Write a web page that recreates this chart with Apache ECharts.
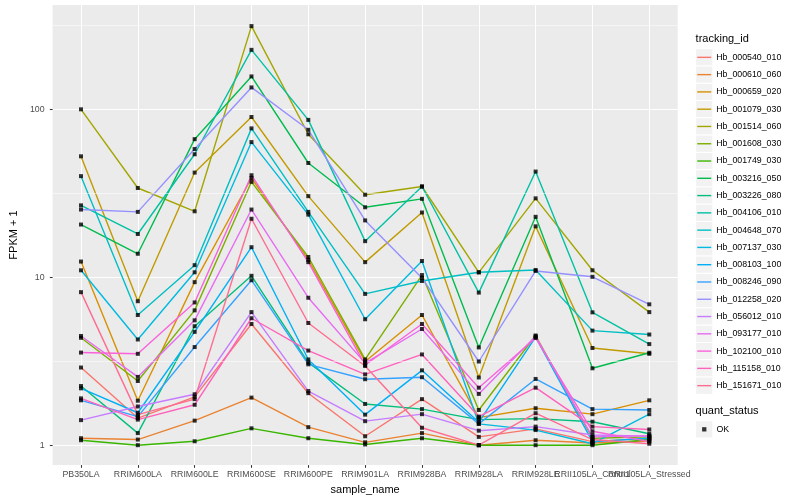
<!DOCTYPE html>
<html>
<head>
<meta charset="utf-8">
<script src="https://cdn.jsdelivr.net/npm/echarts@6/dist/echarts.min.js"></script>
<style>html,body{margin:0;padding:0;background:#fff}#c{width:800px;height:500px}</style>
</head>
<body>
<div id="c"></div>
<script>
// ---------- data ----------
const sampleNames = ['PB350LA','RRIM600LA','RRIM600LE','RRIM600SE','RRIM600PE','RRIM901LA','RRIM928BA','RRIM928LA','RRIM928LE','RRII105LA_Control','RRII105LA_Stressed'];
const trackingIds = ['Hb_000540_010','Hb_000610_060','Hb_000659_020','Hb_001079_030','Hb_001514_060','Hb_001608_030','Hb_001749_030','Hb_003216_050','Hb_003226_080','Hb_004106_010','Hb_004648_070','Hb_007137_030','Hb_008103_100','Hb_008246_090','Hb_012258_020','Hb_056012_010','Hb_093177_010','Hb_102100_010','Hb_115158_010','Hb_151671_010'];

const Hb_000540_010 = [2.9, 1.45, 1.94, 5.27, 2.04, 1.13, 1.88, 1.12, 1.25, 1.05, 1.1];
const Hb_000610_060 = [1.1, 1.08, 1.4, 1.92, 1.28, 1.04, 1.18, 1.0, 1.07, 1.03, 1.06];
const Hb_000659_020 = [12.4, 1.84, 9.35, 39, 12.7, 3.15, 5.96, 1.46, 1.66, 1.53, 1.85];
const Hb_001079_030 = [52.5, 7.2, 42, 90, 30.4, 12.3, 24.3, 2.53, 20.1, 3.79, 3.5];
const Hb_001514_060 = [100, 34, 24.7, 313, 71, 31, 34.7, 10.7, 29.5, 11.0, 6.2];
const Hb_001608_030 = [4.36, 2.41, 6.35, 37, 13.2, 3.24, 10.3, 1.62, 4.5, 1.1, 1.12];
const Hb_001749_030 = [1.07, 1.0, 1.055, 1.26, 1.1, 1.01, 1.1, 1.0, 1.0, 1.0, 1.08];
const Hb_003216_050 = [20.6, 13.8, 66.4, 157, 47.9, 26.1, 29.3, 3.82, 22.9, 2.87, 3.55];
const Hb_003226_080 = [2.25, 1.18, 5.11, 10.2, 3.1, 1.76, 1.64, 1.42, 1.44, 1.38, 1.17];
const Hb_004106_010 = [26.8, 18.1, 54, 226, 86.5, 16.4, 34.7, 8.1, 42.6, 6.18, 4.0];
const Hb_004648_070 = [40, 5.96, 11.8, 77, 24.5, 7.96, 9.5, 10.7, 11.05, 4.81, 4.56];
const Hb_007137_030 = [11.0, 4.26, 10.7, 63.8, 23.6, 5.62, 12.5, 1.34, 1.23, 1.02, 1.53];
const Hb_008103_100 = [2.18, 1.56, 4.73, 15.1, 3.24, 1.52, 2.79, 1.37, 4.4, 1.05, 1.1];
const Hb_008246_090 = [1.85, 1.48, 3.84, 9.6, 3.03, 2.47, 2.54, 1.34, 2.48, 1.64, 1.62];
const Hb_012258_020 = [25.3, 24.5, 58, 135, 75.5, 21.8, 9.9, 3.15, 10.9, 10.06, 6.9];
const Hb_056012_010 = [1.41, 1.7, 2.01, 6.2, 2.1, 1.39, 1.53, 1.22, 1.29, 1.15, 1.13];
const Hb_093177_010 = [4.47, 2.55, 5.54, 25.3, 7.55, 3.08, 4.92, 2.02, 4.45, 1.12, 1.14];
const Hb_102100_010 = [3.56, 3.5, 7.08, 40.5, 12.3, 3.0, 5.27, 2.2, 4.35, 1.21, 1.05];
const Hb_115158_010 = [1.9, 1.42, 1.74, 5.7, 3.66, 2.64, 3.47, 1.48, 2.2, 1.29, 1.24];
const Hb_151671_010 = [8.15, 1.52, 1.88, 22.3, 5.34, 2.96, 1.27, 1.0, 1.55, 1.08, 1.02];

const seriesValues = [Hb_000540_010, Hb_000610_060, Hb_000659_020, Hb_001079_030, Hb_001514_060, Hb_001608_030, Hb_001749_030, Hb_003216_050, Hb_003226_080, Hb_004106_010, Hb_004648_070, Hb_007137_030, Hb_008103_100, Hb_008246_090, Hb_012258_020, Hb_056012_010, Hb_093177_010, Hb_102100_010, Hb_115158_010, Hb_151671_010];

const quantStatus = ['OK'];
const yTickValues = [1, 10, 100];
const yTickLabels = ['1', '10', '100'];
const yMinorBreaks = [Math.pow(10, 0.5), Math.pow(10, 1.5), Math.pow(10, 2.5)];

// ---------- style ----------
const palette = ['#F8766D','#EA8331','#D89000','#C09B00','#A3A500','#7CAE00','#39B600','#00BB4E','#00BF7D','#00C1A3','#00BFC4','#00BAE0','#00B0F6','#35A2FF','#9590FF','#C77CFF','#E76BF3','#FA62DB','#FF62BC','#FF6C91'];
const FONT = '"Liberation Sans", Arial, Helvetica, sans-serif';
const keySize = 17.28, keyLeft = 695.6, legendTop = 48.7, okKeyTop = 420.7;

const chart = echarts.init(document.getElementById('c'), null, {renderer: 'canvas', width: 800, height: 500});

const series = [];
series.push({
  type: 'line', name: '_minor', data: [], z: 1, silent: true, symbol: 'none',
  markLine: {
    silent: true, symbol: ['none', 'none'], label: {show: false}, animation: false,
    emphasis: {disabled: true},
    lineStyle: {color: '#FFFFFF', width: 0.53, type: 'solid'},
    data: yMinorBreaks.map(v => ({yAxis: v}))
  }
});
trackingIds.forEach((id, i) => {
  series.push({
    type: 'line', name: id, data: seriesValues[i], symbol: 'none', showSymbol: false,
    color: palette[i], lineStyle: {color: palette[i], width: 1.4}, itemStyle: {color: palette[i]},
    silent: true, z: 2, emphasis: {disabled: true}
  });
});
const pts = [];
seriesValues.forEach(vals => vals.forEach((v, j) => pts.push([j, v])));
series.push({
  type: 'scatter', name: quantStatus[0], data: pts, symbol: 'rect', symbolSize: 4,
  itemStyle: {color: '#000000'}, z: 5, silent: true, emphasis: {disabled: true}
});

const graphics = [];
for (let i = 0; i < trackingIds.length; i++) {
  graphics.push({type: 'rect', silent: true, z: 1,
    shape: {x: keyLeft, y: legendTop + i * keySize, width: keySize, height: keySize},
    style: {fill: '#F2F2F2', stroke: '#FFFFFF', lineWidth: 1}});
}
graphics.push({type: 'rect', silent: true, z: 1,
  shape: {x: keyLeft, y: okKeyTop, width: keySize, height: keySize},
  style: {fill: '#F2F2F2', stroke: '#FFFFFF', lineWidth: 1}});

function yLabel(v) {
  for (let k = 0; k < yTickValues.length; k++) {
    if (Math.abs(Math.log10(v) - Math.log10(yTickValues[k])) < 1e-6) return yTickLabels[k];
  }
  return '';
}

chart.setOption({
  animation: false,
  backgroundColor: '#FFFFFF',
  textStyle: {fontFamily: FONT},
  title: [
    {text: 'tracking_id', left: keyLeft, top: 33.5, padding: 0,
     textStyle: {fontSize: 11, fontWeight: 'normal', color: '#000000', fontFamily: FONT}},
    {text: 'quant_status', left: keyLeft, top: 405.5, padding: 0,
     textStyle: {fontSize: 11, fontWeight: 'normal', color: '#000000', fontFamily: FONT}}
  ],
  grid: {left: 45.6, right: 122.3, top: 5, bottom: 32, show: true, backgroundColor: '#EBEBEB', borderWidth: 0, containLabel: false},
  xAxis: {
    type: 'category', data: sampleNames, boundaryGap: true,
    name: 'sample_name', nameLocation: 'middle', nameGap: 15,
    nameTextStyle: {fontSize: 11, color: '#000000', fontFamily: FONT},
    axisLine: {show: false},
    axisTick: {show: true, alignWithLabel: true, length: 2.75, lineStyle: {color: '#333333', width: 1.07}},
    axisLabel: {interval: 0, margin: 5, fontSize: 8.8, color: '#4D4D4D', fontFamily: FONT, hideOverlap: false},
    splitLine: {show: true, alignWithLabel: true, lineStyle: {color: '#FFFFFF', width: 1.07}}
  },
  yAxis: {
    type: 'log', logBase: 10, min: 0.761, max: 418,
    name: 'FPKM + 1', nameLocation: 'middle', nameRotate: 90, nameGap: 27,
    nameTextStyle: {fontSize: 11, color: '#000000', fontFamily: FONT},
    axisLine: {show: false},
    axisTick: {show: true, length: 2.75, customValues: yTickValues, lineStyle: {color: '#333333', width: 1.07}},
    axisLabel: {customValues: yTickValues, formatter: yLabel, margin: 8, fontSize: 8.8, color: '#4D4D4D', fontFamily: FONT},
    splitLine: {show: true, customValues: yTickValues, lineStyle: {color: '#FFFFFF', width: 1.07}},
    minorTick: {show: false}, minorSplitLine: {show: false}
  },
  legend: [
    {data: trackingIds, orient: 'vertical', left: keyLeft + 1.64, top: legendTop, padding: 0,
     icon: 'rect', itemWidth: 14, itemHeight: 1.4, itemGap: 0, selectedMode: false,
     textStyle: {fontSize: 8.8, lineHeight: keySize, color: '#000000', fontFamily: FONT}},
    {data: quantStatus, orient: 'vertical', left: keyLeft + keySize / 2 - 2.15, top: okKeyTop, padding: 0,
     icon: 'rect', itemWidth: 4.3, itemHeight: 4.3, selectedMode: false,
     itemStyle: {color: '#000000'},
     textStyle: {fontSize: 8.8, lineHeight: keySize, color: '#000000', fontFamily: FONT, padding: [0, 0, 0, 5]}}
  ],
  graphic: graphics,
  series: series
});
</script>
</body>
</html>
